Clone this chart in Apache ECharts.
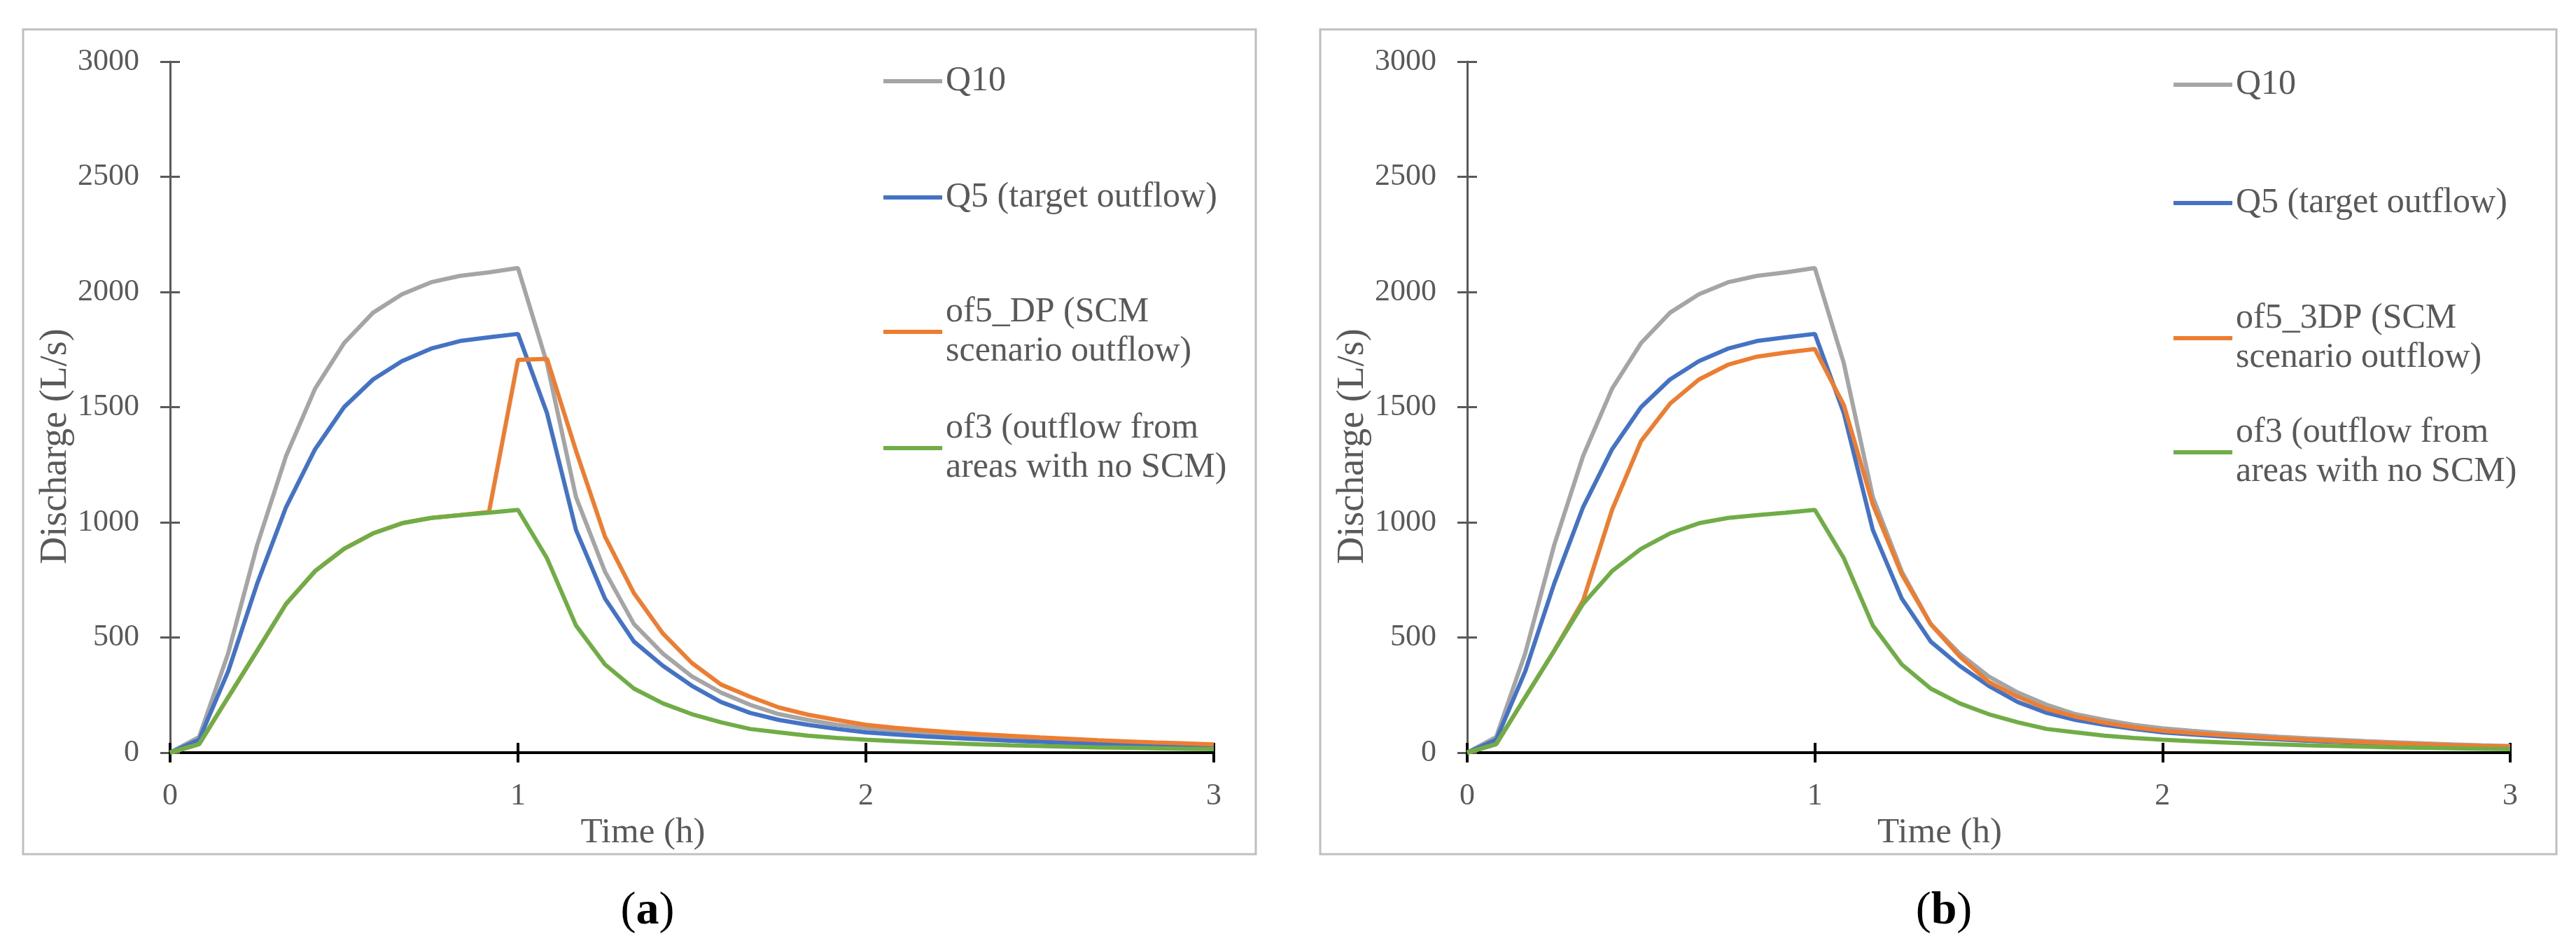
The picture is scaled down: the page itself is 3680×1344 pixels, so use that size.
<!DOCTYPE html>
<html>
<head>
<meta charset="utf-8">
<script src="https://cdn.jsdelivr.net/npm/echarts@6.0.0/dist/echarts.min.js"></script>
<style>
  html, body { margin: 0; padding: 0; background: #fff; }
  #main { width: 3680px; height: 1344px; }
</style>
</head>
<body>
<div id="main"></div>
<script>
// time steps (min), 5-minute model output
const minutes = [0, 5, 10, 15, 20, 25, 30, 35, 40, 45, 50, 55, 60, 65, 70, 75, 80, 85, 90,
  95, 100, 105, 110, 115, 120, 125, 130, 135, 140, 145, 150, 155, 160, 165, 170, 175, 180];

// discharge (L/s)
const q10 = [0, 68, 430, 900, 1288, 1580, 1778, 1910, 1990, 2042, 2070, 2085, 2104, 1690, 1110, 786, 558, 430, 331,
  261, 208, 167, 142, 121, 106, 95, 85, 77, 69, 62, 56, 50, 45, 40, 36, 32, 29];
const q5 = [0, 56, 352, 733, 1066, 1317, 1500, 1620, 1700, 1754, 1787, 1803, 1818, 1474, 967, 669, 482, 377, 290,
  220, 173, 142, 121, 103, 88, 79, 71, 64, 58, 52, 47, 42, 38, 34, 30, 27, 24];
const of3 = [0, 37, 240, 442, 646, 788, 885, 952, 996, 1019, 1031, 1042, 1054, 844, 552, 383, 278, 214, 167,
  132, 103, 88, 74, 64, 56, 50, 45, 40, 36, 32, 29, 26, 23, 21, 19, 17, 15];
const of5DP = [0, 37, 240, 442, 646, 788, 885, 952, 996, 1019, 1031, 1045, 1705, 1710, 1311, 938, 692, 517, 389,
  296, 243, 196, 165, 142, 121, 108, 97, 88, 80, 73, 66, 60, 54, 49, 44, 40, 36];
const of5_3DP = [0, 37, 240, 442, 660, 1054, 1352, 1515, 1620, 1684, 1719, 1737, 1752, 1509, 1078, 774, 558, 418, 307,
  243, 190, 156, 130, 110, 95, 85, 77, 69, 62, 56, 50, 45, 40, 36, 32, 29, 26];

const xTicks = [0, 1, 2, 3];
const yTicks = [0, 500, 1000, 1500, 2000, 2500, 3000];

const nameQ10 = 'Q10';
const nameQ5 = 'Q5 (target outflow)';
const nameDP = 'of5_DP (SCM\nscenario outflow)';
const name3DP = 'of5_3DP (SCM\nscenario outflow)';
const nameOf3 = 'of3 (outflow from\nareas with no SCM)';

const FONT = 'Liberation Serif';
const GREY = '#595959';
const COLORS = { q10: '#A5A5A5', q5: '#4472C4', of5: '#ED7D31', of3: '#70AD47' };
const LEG_LH = 56;

const chart = echarts.init(document.getElementById('main'));

const toPairs = vals => minutes.map((m, i) => [m / 60, vals[i]]);

function xAxes(grid) {
  return [
    {
      gridIndex: grid, type: 'value', position: 'bottom',
      min: xTicks[0], max: xTicks[xTicks.length - 1], interval: 1,
      axisLine: { show: true, onZero: false, lineStyle: { color: '#000', width: 4 } },
      axisTick: { show: true, length: 14, lineStyle: { color: '#000', width: 4 } },
      axisLabel: { margin: 40, fontSize: 44, fontFamily: FONT, color: GREY },
      splitLine: { show: false },
      name: 'Time (h)', nameLocation: 'middle', nameGap: 78,
      nameTextStyle: { fontSize: 51, fontFamily: FONT, color: GREY, padding: [0, 140, 0, 0] }
    },
    {
      // second copy only to draw the upper half of the crossing ticks
      gridIndex: grid, type: 'value', position: 'bottom',
      min: xTicks[0], max: xTicks[xTicks.length - 1], interval: 1,
      axisLine: { show: false },
      axisTick: { show: true, inside: true, length: 14, lineStyle: { color: '#000', width: 4 } },
      axisLabel: { show: false },
      splitLine: { show: false }
    }
  ];
}

function yAxes(grid) {
  return [
    {
      gridIndex: grid, type: 'value', position: 'left',
      min: yTicks[0], max: yTicks[yTicks.length - 1], interval: 500,
      axisLine: { show: true, lineStyle: { color: GREY, width: 3 } },
      axisTick: { show: true, length: 14, lineStyle: { color: GREY, width: 3 } },
      axisLabel: { margin: 44, fontSize: 44, fontFamily: FONT, color: GREY, formatter: v => String(v) },
      splitLine: { show: false },
      name: 'Discharge (L/s)', nameLocation: 'middle', nameGap: 134,
      nameTextStyle: { fontSize: 54, fontFamily: FONT, color: GREY, padding: [0, 112, 0, 0] }
    },
    {
      gridIndex: grid, type: 'value', position: 'left',
      min: yTicks[0], max: yTicks[yTicks.length - 1], interval: 500,
      axisLine: { show: false },
      axisTick: { show: true, inside: true, length: 14, lineStyle: { color: GREY, width: 3 } },
      axisLabel: { show: false },
      splitLine: { show: false }
    }
  ];
}

function line(name, vals, color, grid) {
  return {
    name: name, type: 'line', data: toPairs(vals),
    xAxisIndex: grid * 2, yAxisIndex: grid * 2,
    showSymbol: false, symbol: 'none',
    lineStyle: { color: color, width: 6 },
    itemStyle: { color: color },
    emphasis: { disabled: true }
  };
}

// one legend per entry so wrapped labels keep the line on their first row
function legendItem(name, left, centerY) {
  const twoLines = name.indexOf('\n') >= 0;
  return {
    data: [name], left: left, top: twoLines ? centerY - LEG_LH : centerY - LEG_LH / 2,
    orient: 'vertical', icon: 'rect', itemWidth: 84, itemHeight: 6, padding: 0,
    selectedMode: false,
    textStyle: {
      fontSize: 50, fontFamily: FONT, color: GREY, lineHeight: LEG_LH,
      padding: twoLines ? [LEG_LH, 0, 0, 0] : 0
    }
  };
}

const option = {
  backgroundColor: '#fff',
  animation: false,
  grid: [
    { left: 243, top: 88, width: 1491, height: 987 },
    { left: 2096, top: 88, width: 1490, height: 987 }
  ],
  xAxis: [...xAxes(0), ...xAxes(1)],
  yAxis: [...yAxes(0), ...yAxes(1)],
  legend: [
    legendItem(nameQ10, 1262, 116),
    legendItem(nameQ5, 1262, 282),
    legendItem(nameDP, 1262, 446),
    legendItem(nameOf3, 1262, 612),
    legendItem(nameQ10, 3105, 121),
    legendItem(nameQ5, 3105, 290),
    legendItem(name3DP, 3105, 455),
    legendItem(nameOf3, 3105, 618)
  ],
  graphic: [
    { type: 'rect', silent: true, z: -10, shape: { x: 33, y: 42, width: 1761, height: 1178 },
      style: { fill: 'none', stroke: '#BFBFBF', lineWidth: 3 } },
    { type: 'rect', silent: true, z: -10, shape: { x: 1886, y: 42, width: 1766, height: 1178 },
      style: { fill: 'none', stroke: '#BFBFBF', lineWidth: 3 } },
    { type: 'text', silent: true, x: 925, y: 1302,
      style: { text: '({b|a})', align: 'center', verticalAlign: 'middle', fill: '#000',
        font: '66px "Liberation Serif"', rich: { b: { fontSize: 66, fontWeight: 'bold', fontFamily: FONT } } } },
    { type: 'text', silent: true, x: 2777, y: 1302,
      style: { text: '({b|b})', align: 'center', verticalAlign: 'middle', fill: '#000',
        font: '66px "Liberation Serif"', rich: { b: { fontSize: 66, fontWeight: 'bold', fontFamily: FONT } } } }
  ],
  series: [
    line(nameQ10, q10, COLORS.q10, 0),
    line(nameQ5, q5, COLORS.q5, 0),
    line(nameDP, of5DP, COLORS.of5, 0),
    line(nameOf3, of3, COLORS.of3, 0),
    line(nameQ10, q10, COLORS.q10, 1),
    line(nameQ5, q5, COLORS.q5, 1),
    line(name3DP, of5_3DP, COLORS.of5, 1),
    line(nameOf3, of3, COLORS.of3, 1)
  ]
};

chart.setOption(option);
</script>
</body>
</html>
